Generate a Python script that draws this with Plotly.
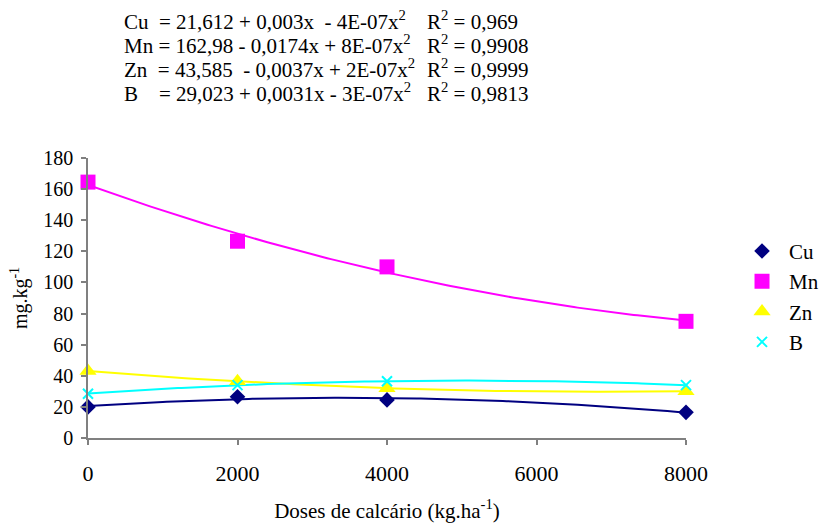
import numpy as np
import plotly.graph_objects as go

# Lime doses (kg/ha) and micronutrient contents (mg/kg)
doses = [0, 2000, 4000, 8000]
cu = [20.0, 26.5, 24.5, 16.5]
mn = [164.5, 126.5, 110.0, 75.0]
zn = [43.0, 36.5, 32.0, 30.0]
b = [28.5, 34.0, 36.5, 34.0]

series_names = ["Cu", "Mn", "Zn", "B"]
series_values = [cu, mn, zn, b]
colors = ["#000080", "#FF00FF", "#FFFF00", "#00FFFF"]
symbols = ["diamond", "square", "triangle-up", "x-thin-open"]
sizes = [12, 15, 15, 10]

equations = [
    "Cu\u00a0 = 21,612 + 0,003x\u00a0 - 4E-07x<sup>2</sup>",
    "Mn = 162,98 - 0,0174x + 8E-07x<sup>2</sup>",
    "Zn\u00a0 = 43,585\u00a0 - 0,0037x + 2E-07x<sup>2</sup>",
    "B\u00a0\u00a0\u00a0 = 29,023 + 0,0031x - 3E-07x<sup>2</sup>",
]
r2_labels = [
    "R<sup>2</sup> = 0,969",
    "R<sup>2</sup> = 0,9908",
    "R<sup>2</sup> = 0,9999",
    "R<sup>2</sup> = 0,9813",
]

FONT = "Liberation Serif"
AXIS_GRAY = "#808080"

fig = go.Figure()

# second-order polynomial trend lines fitted to each series
x_fit = np.linspace(0, 8000, 161)
for name, vals, col in zip(series_names, series_values, colors):
    coef = np.polyfit(doses, vals, 2)
    fig.add_trace(go.Scatter(
        x=x_fit, y=np.polyval(coef, x_fit), mode="lines",
        line=dict(color=col, width=2), showlegend=False, hoverinfo="skip",
    ))

# observed values
for name, vals, col, sym, sz in zip(series_names, series_values, colors, symbols, sizes):
    marker = dict(color=col, symbol=sym, size=sz)
    if sym.endswith("open"):
        marker["line"] = dict(color=col, width=2)
    else:
        marker["line"] = dict(width=0)
    fig.add_trace(go.Scatter(
        x=doses, y=vals, mode="markers", name=name, marker=marker, cliponaxis=False,
    ))

# regression equations above the chart
row_y = [1.490, 1.405, 1.318, 1.234]
for eq, r2, yy in zip(equations, r2_labels, row_y):
    fig.add_annotation(text=eq, x=0.0569, y=yy, xref="paper", yref="paper",
                       xanchor="left", yanchor="middle", showarrow=False,
                       font=dict(family=FONT, size=21, color="black"))
    fig.add_annotation(text=r2, x=0.5635, y=yy, xref="paper", yref="paper",
                       xanchor="left", yanchor="middle", showarrow=False,
                       font=dict(family=FONT, size=21, color="black"))

axis_common = dict(
    showline=True, linecolor=AXIS_GRAY, linewidth=1.5,
    ticks="outside", ticklen=5, tickcolor=AXIS_GRAY, tickwidth=1.5,
    showgrid=False, zeroline=False, automargin=False,
)

fig.update_layout(
    width=823, height=523,
    margin=dict(l=88, r=137, t=158, b=85),
    paper_bgcolor="white", plot_bgcolor="white",
    font=dict(family=FONT, color="black"),
    xaxis=dict(range=[0, 8000], tickvals=[0, 2000, 4000, 6000, 8000],
               tickfont=dict(family=FONT, size=22, color="black"),
               title=dict(text="Doses de calcário (kg.ha<sup>-1</sup>)",
                          font=dict(family=FONT, size=21), standoff=21),
               ticklabelstandoff=10, **axis_common),
    yaxis=dict(range=[0, 180], dtick=20,
               tickfont=dict(family=FONT, size=20, color="black"),
               title=dict(text="mg.kg<sup>-1</sup>",
                          font=dict(family=FONT, size=20), standoff=10),
               ticklabelstandoff=4, **axis_common),
    legend=dict(xref="container", x=0.8931, y=0.74, xanchor="left", yanchor="top",
                itemwidth=44,
                font=dict(family=FONT, size=21, color="black"),
                bgcolor="rgba(0,0,0,0)"),
    showlegend=True,
)

fig.write_html("out.html")
